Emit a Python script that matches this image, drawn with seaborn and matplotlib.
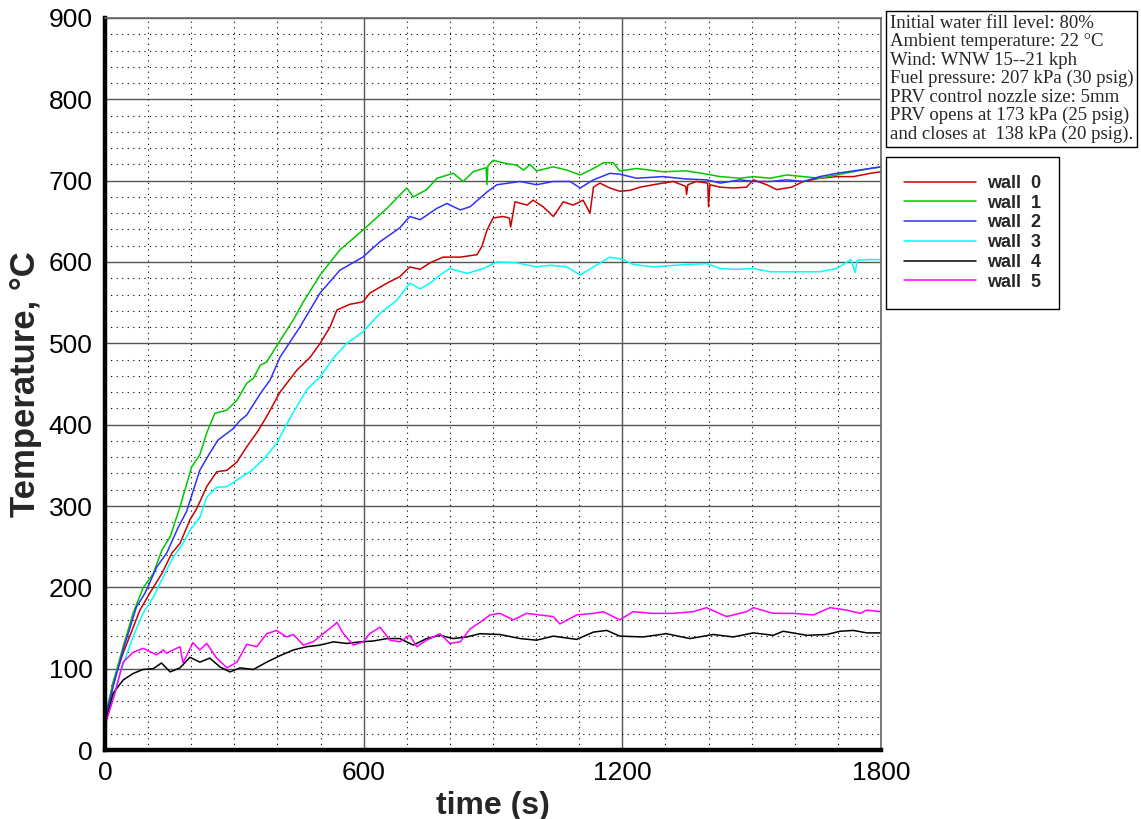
import matplotlib
matplotlib.use("Agg")
import matplotlib.pyplot as plt
from matplotlib.ticker import MultipleLocator
import seaborn as sns
import pandas as pd

# ---------------- data ----------------
t_wall0 = [0, 20, 42, 81, 104, 132, 155, 174, 197, 213, 236, 259, 283, 306, 329, 352, 375, 406,
           445, 476, 499, 522, 538, 568, 598, 615, 654, 684, 707, 731, 754, 784, 824, 863, 874,
           886, 900, 923, 938, 941, 951, 979, 993, 1016, 1040, 1063, 1086, 1109, 1125, 1133,
           1148, 1171, 1194, 1217, 1241, 1272, 1294, 1318, 1347, 1349, 1352, 1372, 1398, 1400,
           1403, 1427, 1457, 1488, 1504, 1535, 1558, 1593, 1620, 1658, 1697, 1736, 1775, 1800]
v_wall0 = [38, 85, 119, 172, 193, 217, 242, 254, 283, 297, 324, 342, 344, 354, 373, 390, 410, 440,
           467, 483, 500, 520, 541, 548, 551, 562, 574, 582, 594, 591, 599, 606, 606, 609, 619,
           639, 654, 656, 654, 643, 674, 670, 676, 668, 656, 674, 670, 676, 660, 692,
           697, 691, 687, 688, 692, 695, 697, 699, 693, 683, 695, 699, 697, 668,
           695, 692, 691, 692, 701, 695, 689, 692, 699, 703, 705, 705, 709, 711]

t_wall1 = [0, 20, 42, 65, 88, 112, 132, 151, 174, 201, 220, 236, 255, 283, 306, 329, 344, 360,
           375, 402, 437, 460, 499, 545, 598, 654, 700, 715, 746, 770, 808, 831, 854, 884, 886,
           888, 900, 932, 955, 971, 986, 1001, 1040, 1071, 1102, 1133, 1156, 1179, 1194, 1233,
           1294, 1349, 1396, 1427, 1473, 1504, 1543, 1581, 1620, 1658, 1697, 1736, 1775, 1800]
v_wall1 = [40, 85, 127, 168, 199, 217, 246, 262, 299, 348, 363, 390, 414, 418, 430, 451, 457, 473,
           477, 500, 529, 551, 584, 615, 639, 666, 691, 680, 689, 703, 709, 699, 711, 716, 695,
           718, 725, 721, 719, 713, 720, 712, 717, 713, 707, 715, 722, 722, 712, 715,
           711, 712, 708, 705, 703, 705, 703, 707, 705, 703, 707, 711, 715, 717]

t_wall2 = [0, 20, 42, 73, 93, 120, 143, 170, 189, 209, 220, 243, 262, 297, 313, 329, 360, 383,
           406, 452, 499, 545, 598, 638, 684, 707, 731, 770, 793, 824, 847, 886, 909, 963, 1001,
           1040, 1079, 1102, 1133, 1171, 1194, 1233, 1294, 1349, 1396, 1427, 1473, 1504, 1543,
           1581, 1620, 1658, 1697, 1736, 1775, 1800]
v_wall2 = [38, 80, 123, 176, 193, 225, 242, 274, 293, 326, 344, 365, 381, 395, 405, 412, 438, 455,
           483, 520, 562, 590, 606, 625, 642, 656, 652, 666, 672, 664, 668, 686, 695, 699, 695,
           699, 699, 691, 701, 709, 708, 703, 705, 702, 701, 697, 701, 699, 699,
           701, 699, 705, 709, 712, 715, 717]

t_wall3 = [0, 20, 35, 65, 88, 112, 135, 158, 181, 197, 220, 236, 259, 283, 306, 336, 367, 398,
           429, 468, 499, 530, 561, 598, 638, 677, 707, 731, 754, 777, 800, 840, 878, 909, 955,
           1001, 1032, 1071, 1102, 1133, 1171, 1202, 1225, 1272, 1349, 1396, 1427, 1465, 1504,
           1543, 1581, 1620, 1658, 1697, 1730, 1740, 1745, 1775, 1800]
v_wall3 = [35, 65, 95, 139, 168, 188, 213, 237, 254, 270, 286, 311, 323, 324, 332, 342, 357, 377,
           408, 443, 459, 482, 500, 514, 537, 553, 574, 567, 574, 584, 592, 586, 592, 600, 599,
           594, 596, 594, 584, 594, 606, 603, 597, 594, 597, 598, 592, 591, 592,
           588, 588, 588, 588, 592, 603, 587, 602, 603, 603]

t_wall4 = [0, 4, 19, 42, 65, 88, 112, 131, 151, 174, 197, 220, 243, 267, 290, 313, 344, 375, 406,
           437, 468, 499, 530, 561, 592, 622, 654, 684, 715, 746, 777, 808, 839, 870, 916, 963,
           1001, 1040, 1094, 1133, 1164, 1194, 1248, 1302, 1357, 1411, 1457, 1504, 1550, 1573,
           1628, 1674, 1705, 1736, 1767, 1800]
v_wall4 = [30, 40, 70, 86, 94, 99, 100, 107, 96, 101, 114, 108, 113, 102, 96, 101, 99, 108, 116,
           123, 127, 129, 133, 131, 133, 134, 137, 137, 129, 137, 141, 137, 139, 143, 142, 137,
           135, 140, 136, 145, 147, 140, 139, 143, 137, 142, 139, 144, 141, 146,
           141, 142, 146, 147, 144, 144]

t_wall5 = [0, 23, 42, 65, 88, 112, 120, 135, 143, 158, 174, 181, 204, 220, 236, 259, 283, 306,
           329, 352, 375, 398, 421, 437, 460, 483, 506, 530, 538, 553, 576, 599, 614, 638, 661,
           684, 707, 723, 746, 777, 800, 824, 847, 870, 893, 916, 947, 978, 1009, 1040, 1055,
           1094, 1133, 1156, 1194, 1225, 1272, 1318, 1364, 1395, 1442, 1488, 1504, 1550, 1597,
           1643, 1682, 1721, 1752, 1767, 1800]
v_wall5 = [30, 70, 108, 120, 125, 119, 117, 123, 119, 123, 127, 107, 132, 123, 131, 113, 101, 108,
           130, 127, 143, 147, 139, 142, 129, 133, 143, 153, 157, 143, 129, 133, 143, 151, 135,
           133, 141, 127, 135, 143, 131, 133, 149, 157, 166, 168, 160, 168, 166, 164, 155,
           166, 168, 170, 160, 170, 168, 168, 170, 175, 164, 170, 175, 168, 168,
           166, 175, 172, 168, 172, 170]

series_names = ["wall  0", "wall  1", "wall  2", "wall  3", "wall  4", "wall  5"]
series_t = [t_wall0, t_wall1, t_wall2, t_wall3, t_wall4, t_wall5]
series_v = [v_wall0, v_wall1, v_wall2, v_wall3, v_wall4, v_wall5]
colors = ["#CC0000", "#00C800", "#3030FF", "#00FFFF", "#000000", "#FF00FF"]

x_major = [0, 600, 1200, 1800]
y_major = list(range(0, 901, 100))

info_text = ("Initial water fill level: 80%\n"
             "Ambient temperature: 22 \u00b0C\n"
             "Wind: WNW 15--21 kph\n"
             "Fuel pressure: 207 kPa (30 psig)\n"
             "PRV control nozzle size: 5mm\n"
             "PRV opens at 173 kPa (25 psig)\n"
             "and closes at  138 kPa (20 psig).")

# ---------------- build table ----------------
rows = []
for name, ts, vs in zip(series_names, series_t, series_v):
    for i, (t, v) in enumerate(zip(ts, vs)):
        rows.append({"time": t, "temp": v, "series": name, "order": i})
df = pd.DataFrame(rows)

sns.set_theme(style="white")
plt.rcParams["font.family"] = ["Liberation Sans", "DejaVu Sans"]

W, H = 1141, 819
fig = plt.figure(figsize=(W / 100, H / 100), dpi=100)
ax = fig.add_axes([105 / W, 1 - 750 / H, (881 - 105) / W, (750 - 18) / H])

sns.lineplot(data=df, x="time", y="temp", hue="series", hue_order=series_names,
             palette=colors, estimator=None, sort=False, linewidth=1.1, ax=ax)

ax.set_xlim(0, 1800)
ax.set_ylim(0, 900)
ax.set_xticks(x_major)
ax.set_yticks(y_major)
ax.xaxis.set_minor_locator(MultipleLocator(100))
ax.yaxis.set_minor_locator(MultipleLocator(20))
ax.set_axisbelow(True)

ax.grid(which="major", color="#555555", linewidth=1.0, linestyle="-")
ax.grid(which="minor", color="black", linewidth=0.8, linestyle=(0, (1, 4)))

ax.tick_params(which="major", direction="in", length=15, width=3.5, colors="black",
               labelsize=19, pad=9)
ax.tick_params(which="minor", direction="in", length=7, width=1.2, colors="black")
ax.tick_params(axis="x", which="major", pad=8)

for side in ["left", "bottom"]:
    ax.spines[side].set_linewidth(3.2)
    ax.spines[side].set_color("black")
for side in ["top", "right"]:
    ax.spines[side].set_linewidth(1.2)
    ax.spines[side].set_color("#666666")

ax.set_xlabel("time (s)", fontsize=23, fontweight="bold", labelpad=4)
ax.set_ylabel("Temperature, \u00b0C", fontsize=25, fontweight="bold", labelpad=5)

# legend
handles, labels = ax.get_legend_handles_labels()
ax.get_legend().remove()
leg = fig.legend(handles, labels, loc="upper left",
                 bbox_to_anchor=(886 / W, 1 - 157 / H), bbox_transform=fig.transFigure,
                 frameon=True, fancybox=False, edgecolor="black", framealpha=1,
                 prop={"weight": "bold", "size": 13}, handlelength=4.0, handletextpad=0.6,
                 labelspacing=0.15, borderpad=1.0, borderaxespad=0)
leg.get_frame().set_linewidth(1.0)
for line in leg.get_lines():
    line.set_linewidth(1.1)

# info box
fig.text(890 / W, 1 - 15 / H, info_text, ha="left", va="top",
         fontsize=13.5, family=["Liberation Serif", "DejaVu Serif"], linespacing=1.1,
         bbox=dict(boxstyle="square,pad=0.2", fc="white", ec="black", lw=1.0))

fig.savefig("out.png", dpi=100)
